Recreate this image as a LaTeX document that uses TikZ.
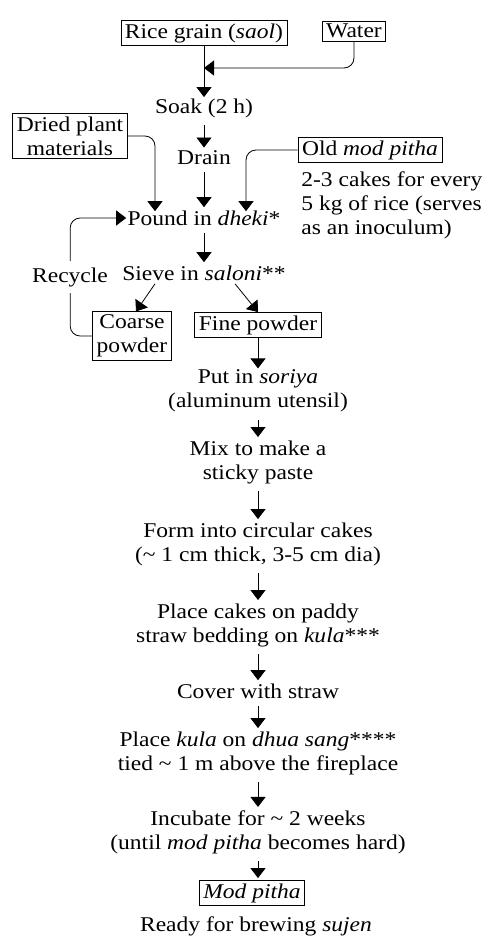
\documentclass[tikz,border=0pt]{standalone}
\usepackage{fontspec}
\setmainfont{Liberation Serif}[FakeStretch=1.12]
\usetikzlibrary{arrows.meta,calc}
\begin{document}
\begin{tikzpicture}[x=1pt,y=-1pt, font=\fontsize{21}{24}\selectfont,
  line width=0.8pt,
  box/.style={draw, line width=0.8pt, inner xsep=4pt, inner ysep=3pt, align=center},
  txt/.style={align=center, inner sep=1pt},
  arr/.style={-{Triangle[width=15pt,length=10pt]}, line width=0.8pt},
  col/.style={arr, shorten <=6pt, shorten >=2pt}]
\useasboundingbox (0,0) rectangle (485,937);
% nodes
\node[box] (rice) at (204,33) {Rice grain (\textit{saol})};
\node[box] (water) at (354,31) {Water};
\node[txt] (soak) at (204,108) {Soak (2 h)};
\node[box] (dried) at (70,136) {Dried plant\\materials};
\node[txt] (drain) at (204,158) {Drain};
\node[box] (old) at (370,150) {Old \textit{mod pitha}};
\node[txt, align=left, anchor=north west] (note) at (300,170) {2-3 cakes for every\\5 kg of rice (serves\\as an inoculum)};
\node[txt] (pound) at (204,218) {Pound in \textit{dheki}*};
\node[txt] (sieve) at (204,273) {Sieve in \textit{saloni}**};
\node[box] (coarse) at (132,336) {Coarse\\powder};
\node[box] (fine) at (258,325) {Fine powder};
\node[txt] (put) at (258,391) {Put in \textit{soriya}\\(aluminum utensil)};
\node[txt] (mix) at (258,462) {Mix to make a\\sticky paste};
\node[txt] (form) at (258,544) {Form into circular cakes\\(\textasciitilde{} 1 cm thick, 3-5 cm dia)};
\node[txt] (place) at (258,625) {Place cakes on paddy\\straw bedding on \textit{kula}***};
\node[txt] (cover) at (258,691) {Cover with straw};
\node[txt] (kula) at (258,753) {Place \textit{kula} on \textit{dhua sang}****\\tied \textasciitilde{} 1 m above the fireplace};
\node[txt] (incub) at (258,832) {Incubate for \textasciitilde{} 2 weeks\\(until \textit{mod pitha} becomes hard)};
\node[box] (mod) at (252,893) {\textit{Mod pitha}};
\node[txt] (ready) at (256,926) {Ready for brewing \textit{sujen}};
% connectors
\coordinate (wj) at (204,68);
\draw[arr] (rice) -- (soak);
\draw[arr, rounded corners=10pt] (water.south) |- (wj);
\draw[col] (soak) -- (drain);
\draw[col] (drain) -- (pound);
\draw[arr, rounded corners=10pt] (dried.east) -| ([xshift=-49pt,yshift=-2pt]pound.north);
\draw[arr, rounded corners=10pt] (old.west) -| ([xshift=42pt,yshift=-2pt]pound.north);
\draw[col] (pound) -- (sieve);
\draw[arr] ([xshift=-49pt,yshift=-2pt]sieve.south) -- ([xshift=4pt]coarse.north);
\draw[arr] ([xshift=31pt,yshift=-2pt]sieve.south) -- (fine.north);
\draw[arr, rounded corners=10pt] (coarse.west) -| ([xshift=-56pt]pound.west) -- (pound.west);
\node[fill=white, inner xsep=1pt, inner ysep=6pt] (recycle) at (70,277) {Recycle};
\draw[arr] (fine) -- (put);
\draw[col] (put) -- (mix);
\draw[col] (mix) -- (form);
\draw[col] (form) -- (place);
\draw[col] (place) -- (cover);
\draw[col] (cover) -- (kula);
\draw[col] (kula) -- (incub);
\draw[col] (incub.south) -- (incub.south |- mod.north);
\end{tikzpicture}
\end{document}
